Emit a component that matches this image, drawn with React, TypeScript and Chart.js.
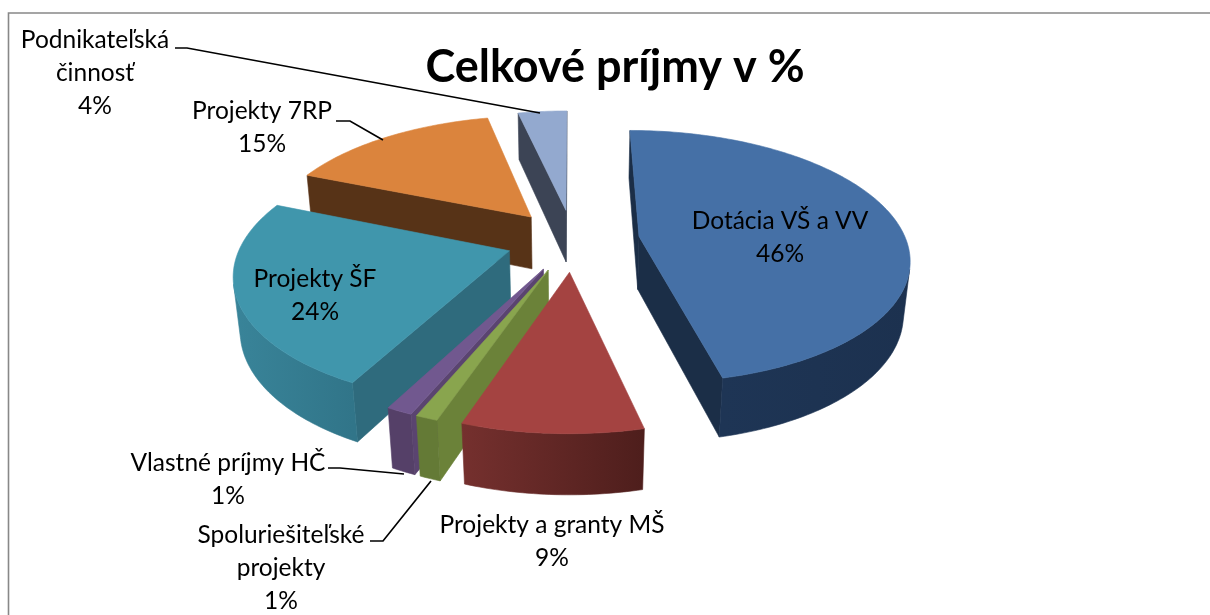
import React, { useEffect, useRef } from "react";
import { Chart, registerables } from "chart.js";

Chart.register(...registerables);

const categories = [
  "Dotácia VŠ a VV",
  "Projekty a granty MŠ",
  "Spoluriešiteľské projekty",
  "Vlastné príjmy HČ",
  "Projekty ŠF",
  "Projekty 7RP",
  "Podnikateľská činnosť",
];
const shares = [46.3, 8.9, 1.1, 1.3, 23.5, 15.3, 3.5];
const chartTitle = "Celkové príjmy v %";

const topColors = ["#4570A6", "#A44341", "#89A54E", "#71588F", "#4096AC", "#DB843D", "#93A9CF"];
const sideColors = ["#1B2E47", "#4E1E1C", "#6B8239", "#5A4470", "#2F6B7D", "#573317", "#3C4455"];
const arcStartColors = ["#182B44", "#4E1E1C", "#647A36", "#554068", "#317589", "#573317", "#3C4455"];
const arcEndColors = ["#1E3555", "#75302E", "#647A36", "#554068", "#3F8FA5", "#573317", "#3C4455"];

type Placed = { name: string[]; x: number; y: number; leader?: number[][] };
const labelPlacement: Placed[] = [
  { name: ["Dotácia VŠ a VV"], x: 780, y: 221 },
  { name: ["Projekty a granty MŠ"], x: 552, y: 525 },
  { name: ["Spoluriešiteľské", "projekty"], x: 281, y: 535, leader: [[370, 541], [383, 541], [431, 481]] },
  { name: ["Vlastné príjmy HČ"], x: 228, y: 463, leader: [[328, 468], [340, 468], [404, 474]] },
  { name: ["Projekty ŠF"], x: 315, y: 279 },
  { name: ["Projekty 7RP"], x: 262, y: 111, leader: [[336, 121], [350, 121], [383, 140]] },
  { name: ["Podnikateľská", "činnosť"], x: 95, y: 40, leader: [[175, 48], [187, 48], [540, 113]] },
];

// projection of the tilted pie
const CX = 573;
const CY = 240;
const RX = 267;
const RY = 124;
const PERSPECTIVE = 0.16;
const SINK = 0.02;
const DEPTH = 54;
const EXPLODE = 0.25;
const LINE_GAP = 33;
const LABEL_FONT = "24.5px Lato";

const project = (x: number, y: number, z: number) => {
  const w = 1 - PERSPECTIVE * y + SINK * z;
  return [CX + (RX * x) / w, CY + (RY * y + DEPTH * z) / w];
};

const hex = (c: string) => [1, 3, 5].map((i) => parseInt(c.slice(i, i + 2), 16));
const mix = (a: string, b: string, t: number) => {
  const p = hex(a);
  const q = hex(b);
  return `rgb(${p.map((v, i) => Math.round(v + (q[i] - v) * t)).join(",")})`;
};

const polygon = (ctx: CanvasRenderingContext2D, pts: number[][], color: any) => {
  ctx.beginPath();
  pts.forEach((p, i) => (i ? ctx.lineTo(p[0], p[1]) : ctx.moveTo(p[0], p[1])));
  ctx.closePath();
  ctx.fillStyle = color;
  ctx.strokeStyle = color;
  ctx.lineWidth = 0.6;
  ctx.fill();
  ctx.stroke();
};

const area = (pts: number[][]) => {
  let s = 0;
  pts.forEach((p, i) => {
    const q = pts[(i + 1) % pts.length];
    s += p[0] * q[1] - q[0] * p[1];
  });
  return s;
};

const pie3d = {
  id: "pie3d",
  beforeDraw(chart: any) {
    const { ctx } = chart;
    ctx.save();
    ctx.fillStyle = "#FFFFFF";
    ctx.fillRect(0, 0, chart.width, chart.height);
    ctx.strokeStyle = "#888888";
    ctx.lineWidth = 1.6;
    ctx.beginPath();
    ctx.moveTo(8.5, chart.height);
    ctx.lineTo(8.5, 13);
    ctx.lineTo(chart.width, 13);
    ctx.stroke();
    ctx.restore();
  },
  beforeDatasetDraw(chart: any, args: any) {
    const { ctx } = chart;
    const arcs: any[] = chart.getDatasetMeta(args.index).data;
    const order = arcs
      .map((el, i) => {
        const { startAngle, endAngle } = el.getProps(["startAngle", "endAngle"], true);
        return { i, startAngle, endAngle, mid: (startAngle + endAngle) / 2 };
      })
      .sort((a, b) => Math.sin(a.mid) - Math.sin(b.mid));

    ctx.save();
    order.forEach(({ i, startAngle, endAngle, mid }) => {
      const ox = EXPLODE * Math.cos(mid);
      const oy = EXPLODE * Math.sin(mid);
      const steps = Math.max(2, Math.ceil(((endAngle - startAngle) * 180) / Math.PI));
      const rim: number[][] = [];
      for (let s = 0; s <= steps; s++) {
        const a = startAngle + ((endAngle - startAngle) * s) / steps;
        rim.push([ox + Math.cos(a), oy + Math.sin(a)]);
      }
      const apex = [ox, oy];
      const quadOf = (a: number[], b: number[]) => [
        project(a[0], a[1], 0),
        project(b[0], b[1], 0),
        project(b[0], b[1], 1),
        project(a[0], a[1], 1),
      ];
      const flat = (a: number[], b: number[]) => {
        const quad = quadOf(a, b);
        if (area(quad) < 0) polygon(ctx, quad, sideColors[i]);
      };
      flat(apex, rim[0]);
      flat(rim[steps], apex);

      // the visible run of the outer wall, one shape with one gradient
      const seen: number[] = [];
      for (let s = 0; s < steps; s++) {
        if (area(quadOf(rim[s], rim[s + 1])) < 0) seen.push(s);
      }
      if (seen.length) {
        const first = seen[0];
        const last = seen[seen.length - 1] + 1;
        const upper: number[][] = [];
        const lower: number[][] = [];
        for (let s = first; s <= last; s++) {
          upper.push(project(rim[s][0], rim[s][1], 0));
          lower.unshift(project(rim[s][0], rim[s][1], 1));
        }
        const grad = ctx.createLinearGradient(upper[0][0], 0, upper[upper.length - 1][0], 0);
        grad.addColorStop(0, mix(arcStartColors[i], arcEndColors[i], first / steps));
        grad.addColorStop(1, mix(arcStartColors[i], arcEndColors[i], last / steps));
        polygon(ctx, [...upper, ...lower], grad);
      }
      polygon(
        ctx,
        [apex, ...rim].map((p) => project(p[0], p[1], 0)),
        topColors[i]
      );
    });
    ctx.restore();
    return false;
  },
  afterDraw(chart: any) {
    const { ctx } = chart;
    ctx.save();
    ctx.font = LABEL_FONT;
    ctx.fillStyle = "#000000";
    ctx.textAlign = "center";
    ctx.textBaseline = "middle";
    labelPlacement.forEach((label, i) => {
      const lines = [...label.name, `${Math.round(shares[i])}%`];
      lines.forEach((line, n) => ctx.fillText(line, label.x, label.y + n * LINE_GAP));
      if (label.leader) {
        ctx.strokeStyle = "#000000";
        ctx.lineWidth = 1.7;
        ctx.beginPath();
        label.leader.forEach((p, n) => (n ? ctx.lineTo(p[0], p[1]) : ctx.moveTo(p[0], p[1])));
        ctx.stroke();
      }
    });
    ctx.restore();
  },
};

export default function App() {
  const ref = useRef<HTMLCanvasElement>(null);
  useEffect(() => {
    const chart = new Chart(ref.current!, {
      type: "pie",
      data: {
        labels: categories,
        datasets: [{ data: shares, backgroundColor: topColors, borderWidth: 0 }],
      },
      options: {
        animation: false,
        responsive: false,
        layout: { padding: { left: 20 } },
        plugins: {
          legend: { display: false },
          tooltip: { enabled: false },
          title: {
            display: true,
            text: chartTitle,
            color: "#000000",
            font: { family: "Lato", size: 45, weight: "bold" },
            padding: { top: 40, bottom: 0 },
          },
        },
      },
      plugins: [pie3d],
    } as any);
    return () => chart.destroy();
  }, []);
  return (
    <canvas
      ref={ref}
      width={1210}
      height={615}
      style={{ position: "fixed", left: 0, top: 0, display: "block", width: 1210, height: 615 }}
    />
  );
}
